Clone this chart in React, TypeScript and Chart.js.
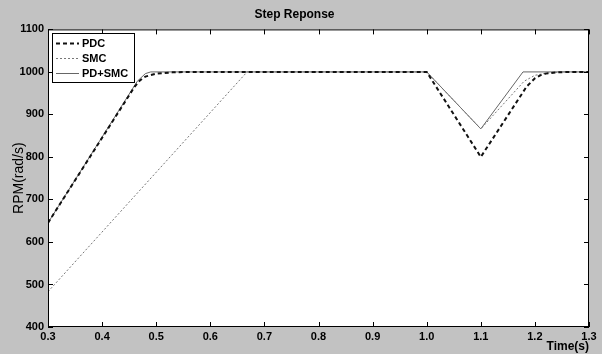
import React, { useEffect, useRef } from "react";
import { Chart, registerables } from "chart.js";

Chart.register(...registerables);

const xTicks = [0.3, 0.4, 0.5, 0.6, 0.7, 0.8, 0.9, 1.0, 1.1, 1.2, 1.3];
const yTicks = [400, 500, 600, 700, 800, 900, 1000, 1100];

const pdcX = [0.3, 0.46, 0.47, 0.48, 0.5, 0.53, 0.56, 1.0, 1.1, 1.185, 1.2, 1.21, 1.22, 1.24, 1.27, 1.3];
const pdcY = [645, 965, 980, 989, 996, 999, 1000, 1000, 800, 966, 985, 992, 996, 999, 1000, 1000];

const smcX = [0.3, 0.668, 1.0, 1.1, 1.18, 1.2, 1.22, 1.25, 1.3];
const smcY = [483, 1000, 1000, 866, 978, 992, 997, 1000, 1000];

const pdsmcX = [0.3, 0.465, 0.48, 0.49, 1.0, 1.1, 1.178, 1.3];
const pdsmcY = [645, 978, 996, 1000, 1000, 866, 1000, 1000];

const seriesNames = ["PDC", "SMC", "PD+SMC"];

const FONT = "'Liberation Sans', Arial, sans-serif";

const toPts = (xs: number[], ys: number[]) => xs.map((x, i) => ({ x, y: ys[i] }));

const frame = {
  id: "frame",
  beforeDraw(chart: any) {
    const { ctx, chartArea: a } = chart;
    ctx.save();
    ctx.fillStyle = "#c2c2c2";
    ctx.fillRect(0, 0, chart.width, chart.height);
    ctx.fillStyle = "#ffffff";
    ctx.fillRect(a.left, a.top, a.right - a.left, a.bottom - a.top);
    ctx.restore();
  },
  afterDatasetsDraw(chart: any) {
    const { ctx, chartArea: a, scales } = chart;
    ctx.save();
    ctx.strokeStyle = "#000";
    ctx.lineWidth = 1;
    ctx.setLineDash([]);
    ctx.strokeRect(a.left + 0.5, a.top + 0.5, a.right - a.left - 1, a.bottom - a.top - 1);
    const tl = 5;
    ctx.beginPath();
    xTicks.forEach((v) => {
      const px = Math.round(scales.x.getPixelForValue(v)) + 0.5;
      ctx.moveTo(px, a.bottom);
      ctx.lineTo(px, a.bottom - tl);
      ctx.moveTo(px, a.top);
      ctx.lineTo(px, a.top + tl);
    });
    yTicks.forEach((v) => {
      const py = Math.round(scales.y.getPixelForValue(v)) + 0.5;
      ctx.moveTo(a.left, py);
      ctx.lineTo(a.left + tl, py);
      ctx.moveTo(a.right, py);
      ctx.lineTo(a.right - tl, py);
    });
    ctx.stroke();

    // legend box
    const lx = 52, ly = 33, lw = 82, lh = 49;
    ctx.fillStyle = "#fff";
    ctx.fillRect(lx, ly, lw, lh);
    ctx.strokeRect(lx + 0.5, ly + 0.5, lw, lh);
    const ds = chart.data.datasets;
    ctx.font = `bold 11px ${FONT}`;
    ctx.textBaseline = "middle";
    ctx.textAlign = "left";
    ds.forEach((d: any, i: number) => {
      const y = ly + 10 + i * 15 + 0.5;
      ctx.beginPath();
      ctx.strokeStyle = d.borderColor;
      ctx.lineWidth = d.borderWidth;
      ctx.setLineDash(d.borderDash || []);
      ctx.moveTo(56, y);
      ctx.lineTo(79, y);
      ctx.stroke();
      ctx.fillStyle = "#000";
      ctx.fillText(d.label, 82, y);
    });
    ctx.restore();
  },
};

export default function App() {
  const ref = useRef<HTMLCanvasElement>(null);
  useEffect(() => {
    document.body.style.margin = "0";
    const chart = new Chart(ref.current as HTMLCanvasElement, {
      type: "line",
      data: {
        datasets: [
          {
            label: seriesNames[0],
            data: toPts(pdcX, pdcY),
            borderColor: "#111",
            borderWidth: 2,
            borderDash: [4, 3],
            pointRadius: 0,
            fill: false,
          },
          {
            label: seriesNames[1],
            data: toPts(smcX, smcY),
            borderColor: "#777",
            borderWidth: 1,
            borderDash: [2, 2],
            pointRadius: 0,
            fill: false,
          },
          {
            label: seriesNames[2],
            data: toPts(pdsmcX, pdsmcY),
            borderColor: "#666",
            borderWidth: 1,
            pointRadius: 0,
            fill: false,
          },
        ],
      },
      options: {
        responsive: false,
        animation: false,
        layout: { padding: { top: 0, left: 0, right: 13, bottom: 0 } },
        plugins: {
          legend: { display: false },
          tooltip: { enabled: false },
          title: {
            display: true,
            text: "Step Reponse",
            color: "#000",
            font: { family: FONT, size: 12, weight: "bold" },
            padding: { top: 7, bottom: 8 },
          },
        },
        scales: {
          x: {
            type: "linear",
            min: 0.3,
            max: 1.3,
            afterBuildTicks: (s: any) => {
              s.ticks = xTicks.map((v) => ({ value: v }));
            },
            afterFit: (s: any) => {
              s.height = 27;
            },
            grid: { display: false, drawTicks: false },
            border: { display: false },
            ticks: {
              color: "#000",
              font: { family: FONT, size: 11, weight: "bold" },
              padding: 3,
              maxRotation: 0,
              autoSkip: false,
              callback: (v: any) => Number(v).toFixed(1),
            },
            title: {
              display: true,
              text: "Time(s)",
              align: "end",
              color: "#000",
              font: { family: FONT, size: 12, weight: "bold" },
              padding: { top: 0, bottom: 0 },
            },
          },
          y: {
            type: "linear",
            min: 400,
            max: 1100,
            afterBuildTicks: (s: any) => {
              s.ticks = yTicks.map((v) => ({ value: v }));
            },
            afterFit: (s: any) => {
              s.width = 48;
            },
            grid: { display: false, drawTicks: false },
            border: { display: false },
            ticks: {
              color: "#000",
              font: { family: FONT, size: 11, weight: "bold" },
              padding: 4,
              autoSkip: false,
              callback: (v: any) => String(v),
            },
            title: {
              display: true,
              text: "RPM(rad/s)",
              color: "#000",
              font: { family: FONT, size: 14 },
              padding: { top: 11, bottom: 0 },
            },
          },
        },
      },
      plugins: [frame],
    });
    return () => chart.destroy();
  }, []);
  return (
    <div style={{ position: "fixed", left: 0, top: 0, width: 602, height: 354 }}>
      <canvas ref={ref} width={602} height={354} />
    </div>
  );
}
